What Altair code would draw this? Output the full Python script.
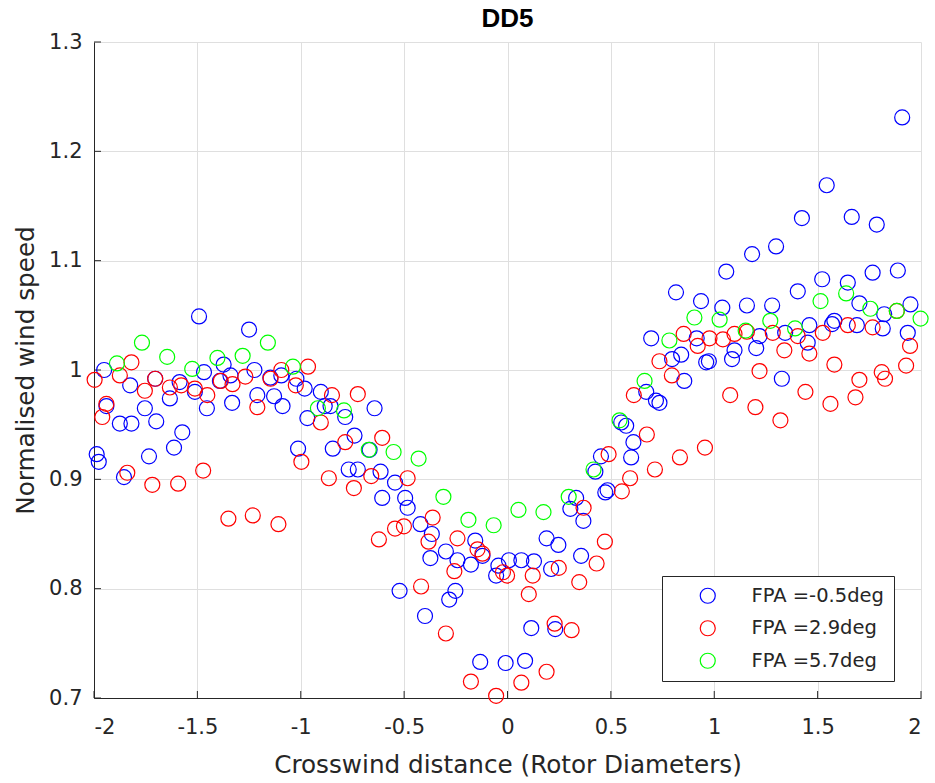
import altair as alt
import pandas as pd

# Series labels and marker colours
series_labels = ["FPA =-0.5deg", "FPA =2.9deg", "FPA =5.7deg"]
series_colors = ["#0000FF", "#FF0000", "#00FF00"]

# FPA = -0.5 deg
blue_x = [-1.987, -1.977, -1.951, -1.940, -1.875, -1.819, -1.855, -1.825, -1.754, -1.699,
          -1.734, -1.704, -1.613, -1.573, -1.633, -1.586, -1.492, -1.512, -1.468, -1.454,
          -1.373, -1.391, -1.332, -1.340, -1.250, -1.224, -1.210, -1.129, -1.088, -1.147,
          -1.094, -1.021, -1.013, -0.981, -0.903, -0.884, -0.856, -0.968, -0.785, -0.643,
          -0.740, -0.845, -0.667, -0.768, -0.724, -0.614, -0.544, -0.495, -0.483, -0.606,
          -0.421, -0.366, -0.373, -0.298, -0.242, -0.177, -0.156, -0.121, -0.522, -0.252,
          -0.282, -0.399, -0.055, -0.044, 0.007, 0.067, 0.128, 0.211, 0.189, 0.246,
          0.356, 0.115, 0.231, -0.132, -0.009, 0.085, 0.304, 0.332, 0.367, 0.425,
          0.452, 0.473, 0.484, 0.550, 0.574, 0.609, 0.598, 0.671, 0.718, 0.735,
          0.855, 1.909, 1.544, 1.424, 1.665, 1.786, 1.299, 1.183, 1.058, 0.815,
          0.936, 1.039, 1.158, 1.280, 1.404, 1.522, 1.646, 1.766, 1.888, 1.702,
          1.949, 1.822, 1.581, 1.570, 1.460, 1.690, 1.815, 1.936, 1.343, 1.219,
          1.452, 1.203, 1.098, 1.086, 0.915, 0.840, 0.796, 0.974, 0.961, 0.695,
          1.327]
blue_y = [0.923, 0.916, 1.000, 0.967, 0.951, 0.951, 0.902, 0.986, 0.965, 0.953,
          0.921, 0.992, 0.929, 0.943, 0.974, 0.989, 1.049, 0.980, 0.998, 0.965,
          1.005, 0.990, 0.970, 0.995, 1.037, 1.000, 0.977, 0.976, 0.967, 0.993,
          0.995, 0.992, 0.928, 0.983, 0.980, 0.967, 0.967, 0.956, 0.957, 0.965,
          0.940, 0.928, 0.927, 0.909, 0.909, 0.907, 0.897, 0.883, 0.874, 0.883,
          0.859, 0.850, 0.828, 0.834, 0.826, 0.822, 0.844, 0.830, 0.798, 0.798,
          0.790, 0.775, 0.812, 0.821, 0.826, 0.826, 0.825, 0.818, 0.846, 0.840,
          0.830, 0.764, 0.763, 0.733, 0.732, 0.734, 0.873, 0.883, 0.862, 0.907,
          0.921, 0.888, 0.890, 0.952, 0.949, 0.934, 0.920, 0.980, 0.972, 0.970,
          0.990, 1.231, 1.169, 1.139, 1.140, 1.133, 1.113, 1.106, 1.090, 1.071,
          1.063, 1.057, 1.059, 1.059, 1.072, 1.083, 1.080, 1.089, 1.091, 1.061,
          1.060, 1.051, 1.045, 1.042, 1.041, 1.041, 1.038, 1.034, 1.034, 1.031,
          1.025, 1.020, 1.018, 1.010, 1.029, 1.014, 1.010, 1.008, 1.007, 1.029,
          0.992]

# FPA = 2.9 deg
red_x = [-1.997, -1.960, -1.940, -1.875, -1.819, -1.839, -1.754, -1.718, -1.704, -1.633,
         -1.593, -1.578, -1.512, -1.472, -1.452, -1.387, -1.330, -1.350, -1.268, -1.232,
         -1.210, -1.146, -1.094, -1.108, -1.024, -0.997, -0.965, -0.849, -0.724, -0.903,
         -0.785, -0.606, -0.864, -0.743, -0.659, -0.483, -0.622, -0.544, -0.501, -0.362,
         -0.382, -0.242, -0.145, -0.121, -0.257, -0.418, -0.022, -0.002, 0.122, 0.103,
         0.228, 0.310, 0.189, 0.067, -0.055, -0.177, -0.298, 0.248, 0.347, 0.431,
         0.471, 0.368, 0.489, 0.611, 1.077, 0.674, 0.955, 0.834, 0.713, 0.593,
         0.553, 1.883, 1.947, 1.928, 1.810, 1.826, 1.702, 1.683, 1.562, 1.441,
         1.320, 1.199, 1.219, 1.581, 1.460, 1.339, 1.766, 1.646, 1.525, 1.404,
         1.283, 1.158, 1.098, 1.042, 0.977, 0.920, 0.852, 0.735, 0.795]
red_y = [0.991, 0.957, 0.969, 0.995, 1.007, 0.906, 0.981, 0.895, 0.992, 0.984,
         0.896, 0.986, 0.983, 0.908, 0.977, 0.990, 0.987, 0.864, 0.994, 0.867,
         0.966, 0.992, 1.000, 0.859, 0.986, 0.916, 1.003, 0.977, 0.978, 0.952,
         0.934, 0.938, 0.901, 0.892, 0.903, 0.901, 0.845, 0.855, 0.857, 0.865,
         0.843, 0.846, 0.836, 0.832, 0.816, 0.802, 0.815, 0.812, 0.812, 0.795,
         0.768, 0.762, 0.724, 0.714, 0.702, 0.715, 0.759, 0.819, 0.806, 0.823,
         0.843, 0.874, 0.923, 0.977, 0.977, 0.941, 0.929, 0.920, 0.909, 0.901,
         0.889, 1.054, 1.022, 1.004, 0.998, 0.992, 0.991, 0.975, 0.969, 0.980,
         0.954, 0.966, 0.999, 1.005, 1.015, 1.018, 1.039, 1.041, 1.034, 1.031,
         1.034, 1.035, 1.033, 1.028, 1.029, 1.022, 1.033, 1.008, 0.995]

# FPA = 5.7 deg
green_x = [-1.889, -1.768, -1.646, -1.525, -1.403, -1.281, -1.159, -1.038, -0.917, -0.791,
           -0.671, -0.551, -0.430, -0.310, -0.189, -0.067, 0.053, 0.174, 0.296, 0.416,
           0.542, 0.663, 0.783, 0.904, 1.026, 1.152, 1.271, 1.391, 1.514, 1.638,
           1.755, 1.883, 1.998]
green_y = [1.006, 1.025, 1.012, 1.001, 1.011, 1.013, 1.025, 1.003, 0.965, 0.963,
           0.927, 0.925, 0.919, 0.884, 0.863, 0.858, 0.872, 0.870, 0.884, 0.909,
           0.954, 0.990, 1.027, 1.048, 1.046, 1.036, 1.045, 1.038, 1.063, 1.070,
           1.056, 1.054, 1.047]

x_ticks = [-2, -1.5, -1, -0.5, 0, 0.5, 1, 1.5, 2]
y_ticks = [0.7, 0.8, 0.9, 1.0, 1.1, 1.2, 1.3]

df = pd.concat([
    pd.DataFrame({"x": blue_x, "y": blue_y, "series": series_labels[0]}),
    pd.DataFrame({"x": red_x, "y": red_y, "series": series_labels[1]}),
    pd.DataFrame({"x": green_x, "y": green_y, "series": series_labels[2]}),
], ignore_index=True)

FONT = "DejaVu Sans"
TITLE_FONT = "Liberation Sans"
AXIS_COLOR = "#262626"
W, H = 827, 656

x_enc = alt.X(
    "x:Q",
    scale=alt.Scale(domain=[-2, 2], nice=False, zero=False),
    axis=alt.Axis(
        values=x_ticks,
        labelExpr="'' + datum.value",
        title="Crosswind distance (Rotor Diameters)",
        titlePadding=15,
        labelPadding=18,
    ),
)
y_enc = alt.Y(
    "y:Q",
    scale=alt.Scale(domain=[0.7, 1.3], nice=False, zero=False),
    axis=alt.Axis(
        values=y_ticks,
        labelExpr="'' + datum.value",
        title="Normalised wind speed",
        titlePadding=10,
        labelPadding=12,
    ),
)

points = alt.Chart(df).mark_point(
    shape="circle", filled=False, size=225, strokeWidth=1.2, opacity=1
).encode(
    x=x_enc,
    y=y_enc,
    color=alt.Color(
        "series:N",
        sort=series_labels,
        scale=alt.Scale(domain=series_labels, range=series_colors),
        legend=alt.Legend(
            title=None,
            orient="none",
            legendX=568,
            legendY=534,
            strokeColor=AXIS_COLOR,
            fillColor="white",
            padding=10,
            labelFont=FONT,
            labelFontSize=19.5,
            labelColor=AXIS_COLOR,
            labelOffset=34,
            symbolType="circle",
            symbolSize=225,
            symbolStrokeWidth=1.2,
            symbolOffset=26,
            rowPadding=11.5,
            cornerRadius=0,
        ),
    ),
)

# Inward tick marks along the bottom and left axes
xtick_df = pd.DataFrame({"x": x_ticks})
ytick_df = pd.DataFrame({"y": y_ticks})
xticks = alt.Chart(xtick_df).mark_rule(color=AXIS_COLOR, strokeWidth=1).encode(
    x=x_enc, y=alt.value(H), y2=alt.value(H - 7)
)
yticks = alt.Chart(ytick_df).mark_rule(color=AXIS_COLOR, strokeWidth=1).encode(
    y=y_enc, x=alt.value(0), x2=alt.value(7)
)

chart = alt.layer(xticks, yticks, points).properties(
    width=W,
    height=H,
    title=alt.TitleParams(
        "DD5", font=TITLE_FONT, fontSize=26, fontWeight="bold", color="black",
        anchor="middle", offset=0, dy=1,
    ),
    autosize=alt.AutoSizeParams(type="none"),
    padding={"left": 94, "top": 42, "right": 14, "bottom": 85},
).configure_view(
    stroke=None
).configure_axis(
    labelFont=FONT,
    labelFontSize=21,
    labelColor=AXIS_COLOR,
    titleFont=FONT,
    titleFontSize=24.7,
    titleFontWeight="normal",
    titleColor=AXIS_COLOR,
    domainColor=AXIS_COLOR,
    domainWidth=1,
    tickSize=0,
    gridColor="#dfdfdf",
    gridWidth=1,
)

chart.save("out.html", embed_options={"renderer": "svg", "actions": False})
